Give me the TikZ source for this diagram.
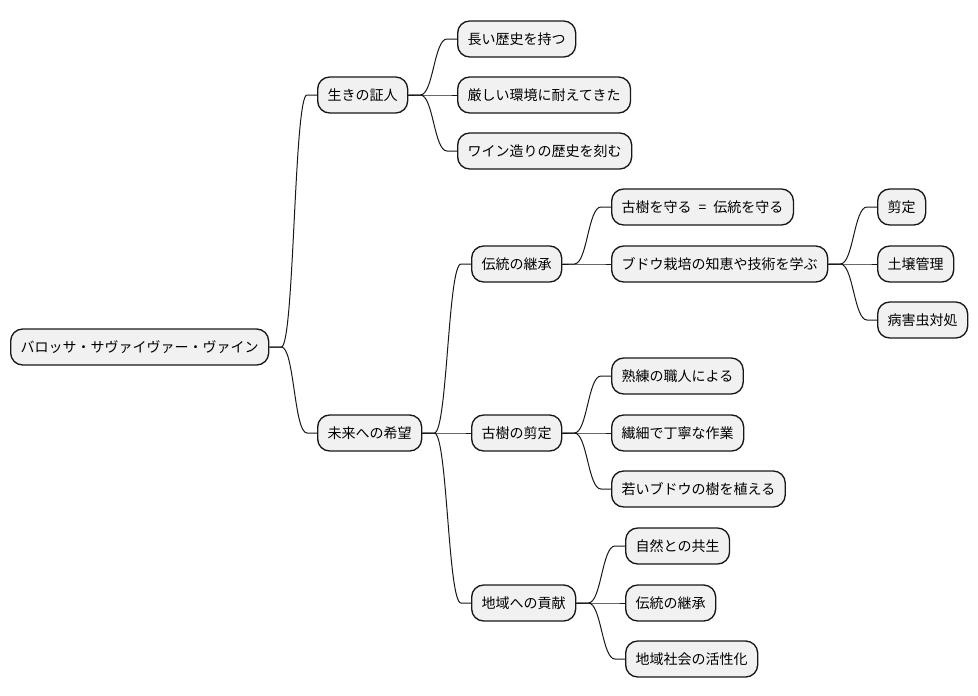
\documentclass[tikz,border=0pt]{standalone}
\usepackage{fontspec}
\setmainfont{Noto Sans CJK JP}
\usepackage{tikz}
\usetikzlibrary{calc}
\definecolor{mmfill}{HTML}{F1F1F1}
\definecolor{mmline}{HTML}{181818}
\tikzset{
  mm box/.style={draw=mmline,fill=mmfill,line width=1pt,rounded corners=9pt,
    minimum height=27pt,inner xsep=7.5pt,inner ysep=0pt,anchor=west,
    font=\fontsize{10.5}{12}\selectfont},
  mm link/.style={draw=mmline,line width=0.75pt,
    to path={-- ++(12,0) .. controls +(13,0) and +(-13,0) ..
      ($(\tikztotarget)+(-10,0)$) -- (\tikztotarget)}}
}

\begin{document}
\begin{tikzpicture}[x=0.75pt,y=-0.75pt]
  \useasboundingbox (0,0) rectangle (978,696);

  % root and first level
  \node[mm box] (root) at (10,347) {バロッサ・サヴァイヴァー・ヴァイン};
  \node[mm box] (witness) at (317,95) {生きの証人};
  \node[mm box] (hope) at (317,433) {未来への希望};

  % witness branch
  \node[mm box] (longhist) at (457,39) {長い歴史を持つ};
  \node[mm box] (harsh) at (457,95) {厳しい環境に耐えてきた};
  \node[mm box] (carve) at (457,151) {ワイン造りの歴史を刻む};

  % hope branch
  \node[mm box] (tradition) at (471,264) {伝統の継承};
  \node[mm box] (pruning) at (471,433) {古樹の剪定};
  \node[mm box] (region) at (471,603) {地域への貢献};

  \node[mm box] (protect) at (611,207)
    {古樹を守る\hspace{0.5em}=\hspace{0.5em}伝統を守る};
  \node[mm box] (learn) at (611,264) {ブドウ栽培の知恵や技術を学ぶ};
  \node[mm box] (prune) at (877,207) {剪定};
  \node[mm box] (soil) at (877,264) {土壌管理};
  \node[mm box] (pest) at (877,320) {病害虫対処};

  \node[mm box] (skilled) at (611,376) {熟練の職人による};
  \node[mm box] (careful) at (611,433) {繊細で丁寧な作業};
  \node[mm box] (plant) at (611,489) {若いブドウの樹を植える};

  \node[mm box] (nature) at (625,546) {自然との共生};
  \node[mm box] (tradition2) at (625,603) {伝統の継承};
  \node[mm box] (revive) at (625,659) {地域社会の活性化};

  % links
  \draw[mm link] (root.east) to (witness.west);
  \draw[mm link] (root.east) to (hope.west);
  \foreach \c in {longhist,harsh,carve}
    \draw[mm link] (witness.east) to (\c.west);
  \foreach \c in {tradition,pruning,region}
    \draw[mm link] (hope.east) to (\c.west);
  \foreach \c in {protect,learn}
    \draw[mm link] (tradition.east) to (\c.west);
  \foreach \c in {prune,soil,pest}
    \draw[mm link] (learn.east) to (\c.west);
  \foreach \c in {skilled,careful,plant}
    \draw[mm link] (pruning.east) to (\c.west);
  \foreach \c in {nature,tradition2,revive}
    \draw[mm link] (region.east) to (\c.west);
\end{tikzpicture}
\end{document}
